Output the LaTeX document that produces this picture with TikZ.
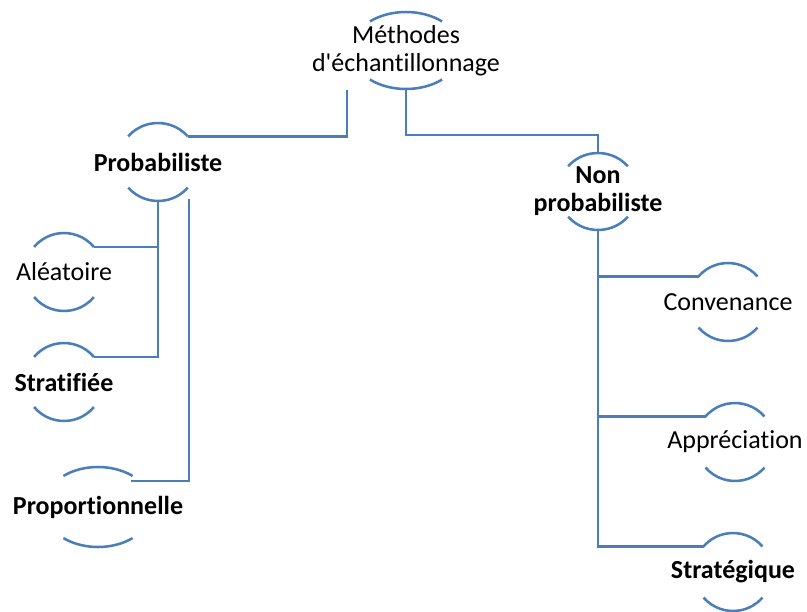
\documentclass[tikz,border=0pt]{standalone}
\usepackage{fontspec}
\setmainfont{Carlito}[Ligatures={NoCommon}]
\definecolor{linkblue}{HTML}{4A7EBB}
\tikzset{
  link/.style={draw=linkblue, line width=1.9pt},
  bubtext/.style={font=\fontsize{19.5}{21}\selectfont, align=center, inner sep=0pt, text=black},
}
% name, x, y, x radius, y radius, arc half-angle, label
\newcommand\bubble[7]{%
  \node[bubtext] (#1) at (#2,#3) {#7};
  \coordinate (#1-tl) at ({#2-#4*cos(#6)},{#3-#5*sin(#6)});
  \coordinate (#1-tr) at ({#2+#4*cos(#6)},{#3-#5*sin(#6)});
  \coordinate (#1-bl) at ({#2-#4*cos(#6)},{#3+#5*sin(#6)});
  \coordinate (#1-t) at (#2,{#3-#5});
  \coordinate (#1-b) at (#2,{#3+#5});
  \draw[link] (#1-tr) arc[start angle=-#6, end angle=#6-180, x radius=#4, y radius=#5];
  \draw[link] (#1-bl) arc[start angle=180-#6, end angle=#6, x radius=#4, y radius=#5];
}
\begin{document}
\begin{tikzpicture}[x=0.75pt, y=-0.75pt]
  \useasboundingbox (0,0) rectangle (807,611);

  \bubble{meth}{406}{50.5}{55}{38.5}{49}{Méthodes\\d\textquotesingle{}échantillonnage}
  \bubble{prob}{158}{162}{39.5}{39}{41}{\bfseries Probabiliste}
  \bubble{nonp}{598}{191.5}{39.5}{38.5}{41}{\bfseries Non\\\bfseries probabiliste}
  \bubble{aleat}{64}{272}{39}{39}{40}{Aléatoire}
  \bubble{strat}{64}{382}{39}{39}{40}{\bfseries Stratifiée}
  \bubble{prop}{98}{507}{55}{40}{51}{\bfseries Proportionnelle}
  \bubble{conv}{728}{302}{39}{39}{41}{Convenance}
  \bubble{appr}{735}{442}{39}{39}{41}{Appréciation}
  \bubble{strg}{733}{572}{39}{39}{41}{\bfseries Stratégique}

  % free ends of the connectors
  \coordinate (meth-l) at (347,90);
  \coordinate (prob-r) at (189,199);
  \coordinate (prop-j) at (131,481);

  % top level
  \draw[link] (meth-l) |- (prob-tr);
  \draw[link] (meth-b) -- ++(0,46) -| (nonp-t);

  % probabilistic branch
  \draw[link] (prob-b) |- (aleat-tr);
  \draw[link] (prob-b) |- (strat-tr);
  \draw[link] (prob-r) |- (prop-j);

  % non-probabilistic branch
  \draw[link] (nonp-b) |- (conv-tl);
  \draw[link] (nonp-b) |- (appr-tl);
  \draw[link] (nonp-b) |- (strg-tl);
\end{tikzpicture}
\end{document}
